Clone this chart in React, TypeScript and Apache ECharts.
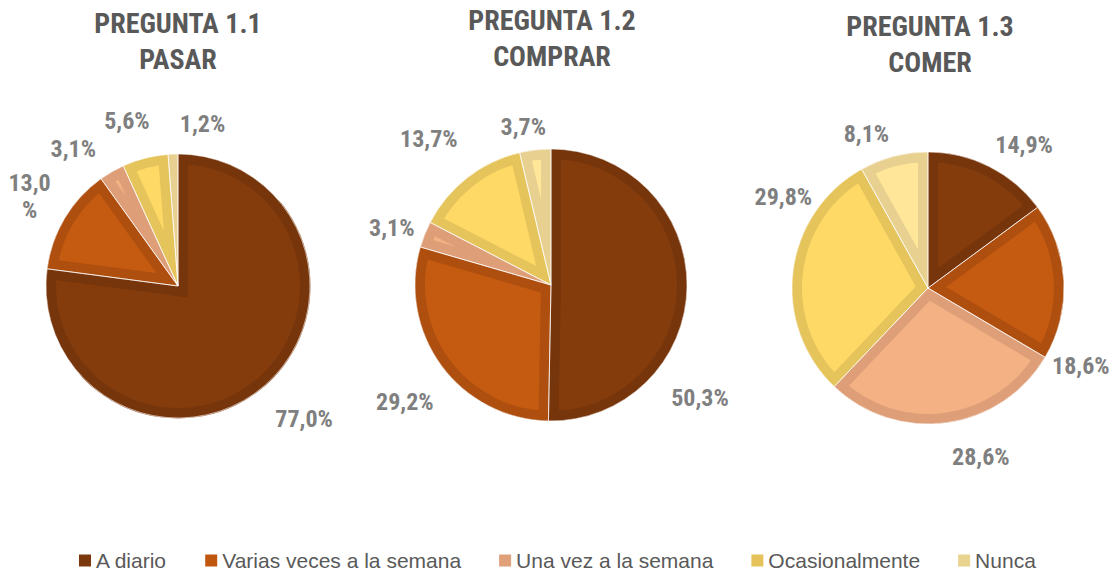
import React, { useEffect, useRef } from 'react';
import * as echarts from 'echarts';

// ---------- data ----------
const CATEGORIES = ['A diario', 'Varias veces a la semana', 'Una vez a la semana', 'Ocasionalmente', 'Nunca'];
const TITLES = ['PREGUNTA 1.1\nPASAR', 'PREGUNTA 1.2\nCOMPRAR', 'PREGUNTA 1.3\nCOMER'];
const PASAR = [77.0, 13.0, 3.1, 5.6, 1.2];
const COMPRAR = [50.3, 29.2, 3.1, 13.7, 3.7];
const COMER = [14.9, 18.6, 28.6, 29.8, 8.1];
const CHART_VALUES = [PASAR, COMPRAR, COMER];

// ---------- styles ----------
const FILL = ['#843C0C', '#C55A11', '#F4B183', '#FFD966', '#FFE699'];
const BORDER = ['#77350B', '#AE4F0F', '#DE9E78', '#E6C45C', '#E8D190'];
const LEGEND_COLORS = ['#7B380C', '#C0570F', '#E0A07A', '#E6C35A', '#E8D38F'];
const BORDER_W = 10;
const BOLD_FONT = "'Roboto Condensed', Roboto, 'Liberation Sans', sans-serif";

const LAYOUT = [
  { cx: 178, cy: 286, r: 132, labelR: 170, titleX: 178, titleY: 5.5 },
  { cx: 551, cy: 285, r: 136, labelR: 176, titleX: 552, titleY: 2 },
  { cx: 928, cy: 288, r: 136, labelR: 170, titleX: 930, titleY: 8.5 },
];
// label offsets (Excel "best fit" placement)
const LABEL_NUDGE = [
  [[12, 3], [0, -1], [-18, 13], [-8, 3], [31, 11]],
  [[-30, 111], [-2, 11], [7, 9], [-12, -5], [-7, 20]],
  [[18, 11], [-20, 87], [29, -2], [27, -69], [-18, 13]],
];
const WRAPPED_LABELS = ['0-1'];

function fmt(v: number) {
  return v.toFixed(1).replace('.', ',') + '%';
}

function insetGeometry(values: number[], cx: number, cy: number, r: number, w: number) {
  const total = values.reduce((a, b) => a + b, 0);
  let acc = 0;
  const rho = r - w;
  return values.map((v) => {
    const s = acc / total;
    const e = (acc + v) / total;
    acc += v;
    const alpha = Math.PI * (e - s);
    const beta = Math.PI * (s + e);
    const bx = Math.sin(beta);
    const by = -Math.cos(beta);
    const sinA = Math.sin(alpha);
    if (sinA < 1e-6) return null;
    const d = w / sinA;
    if (d >= rho - 1) return null;
    const t = -d * Math.cos(alpha) + Math.sqrt(rho * rho - w * w);
    if (t <= 1) return null;
    return { cx: cx + d * bx, cy: cy + d * by, r: t, reach: d + t };
  });
}

function buildSeries() {
  const series: any[] = [];
  const common = {
    type: 'pie',
    silent: true,
    startAngle: 90,
    clockwise: true,
    label: { show: false },
    labelLine: { show: false },
    emphasis: { disabled: true },
    animation: false,
  };
  CHART_VALUES.forEach((values, k) => {
    const L = LAYOUT[k];
    // base (border colour) disc
    series.push({
      ...common,
      center: [L.cx, L.cy],
      radius: L.r,
      data: values.map((v, i) => ({
        name: CATEGORIES[i],
        value: v,
        itemStyle: { color: BORDER[i], borderWidth: 0 },
      })),
    });
    // inset fill sectors
    const geo = insetGeometry(values, L.cx, L.cy, L.r, BORDER_W);
    let maxReach = 0;
    geo.forEach((g, i) => {
      if (!g) return;
      maxReach = Math.max(maxReach, g.reach);
      series.push({
        ...common,
        center: [g.cx, g.cy],
        radius: g.r,
        data: values.map((v, j) => ({
          value: v,
          itemStyle: j === i ? { color: FILL[i], borderWidth: 0 } : { color: 'rgba(0,0,0,0)', borderWidth: 0 },
        })),
      });
    });
    // outer border ring
    series.push({
      ...common,
      center: [L.cx, L.cy],
      radius: [L.r - BORDER_W, L.r],
      data: values.map((v, i) => ({
        value: v,
        itemStyle: { color: BORDER[i], borderWidth: 0 },
      })),
    });
    // white mask for any overflow beyond the outer edge
    const overflow = maxReach - L.r;
    if (overflow > 0) {
      series.push({
        ...common,
        center: [L.cx, L.cy],
        radius: [L.r + 0.5, L.r + overflow + 3],
        data: [{ value: 1, itemStyle: { color: '#ffffff', borderWidth: 0 } }],
      });
    }
    // thin light separators between slices
    series.push({
      ...common,
      center: [L.cx, L.cy],
      radius: L.r,
      data: values.map((v) => ({
        value: v,
        itemStyle: { color: 'rgba(0,0,0,0)', borderColor: 'rgba(255,255,255,0.6)', borderWidth: 1 },
      })),
    });
    // labels
    series.push({
      ...common,
      center: [L.cx, L.cy],
      radius: [L.labelR - 4, L.labelR + 4],
      data: values.map((v) => ({ value: v, itemStyle: { color: 'rgba(0,0,0,0)', borderWidth: 0 } })),
      label: {
        show: true,
        position: 'inside',
        formatter: (p: any) => {
          const txt = fmt(p.value);
          return WRAPPED_LABELS.includes(`${k}-${p.dataIndex}`) ? txt.replace('%', '\n%') : txt;
        },
        fontFamily: BOLD_FONT,
        fontWeight: 'bold',
        fontSize: 24,
        lineHeight: 27,
        color: '#7F7F7F',
      },
      labelLayout: (p: any) => {
        const n = LABEL_NUDGE[k][p.dataIndex];
        return { dx: n[0], dy: n[1] };
      },
    });
  });
  return series;
}

export default function App() {
  const ref = useRef<HTMLDivElement>(null);
  useEffect(() => {
    if (!ref.current) return;
    const chart = echarts.init(ref.current, undefined, { renderer: 'svg' });
    chart.setOption({
      animation: false,
      backgroundColor: '#ffffff',
      title: TITLES.map((t, k) => ({
        text: t,
        left: LAYOUT[k].titleX,
        top: LAYOUT[k].titleY,
        textAlign: 'center',
        padding: 0,
        textStyle: {
          fontFamily: BOLD_FONT,
          fontWeight: 'bold',
          fontSize: 28,
          lineHeight: 36,
          color: '#595959',
        },
      })),
      legend: {
        left: 79,
        top: 550,
        padding: 0,
        icon: 'rect',
        itemWidth: 12,
        itemHeight: 12,
        itemGap: 38,
        selectedMode: false,
        textStyle: { fontFamily: "'Liberation Sans', Arial, sans-serif", fontSize: 21, color: '#595959' },
        data: CATEGORIES.map((n, i) => ({ name: n, itemStyle: { color: LEGEND_COLORS[i] } })),
      },
      series: buildSeries(),
    });
    return () => chart.dispose();
  }, []);
  return (
    <div
      ref={ref}
      style={{ position: 'absolute', left: 0, top: 0, width: 1110, height: 574 }}
    />
  );
}
